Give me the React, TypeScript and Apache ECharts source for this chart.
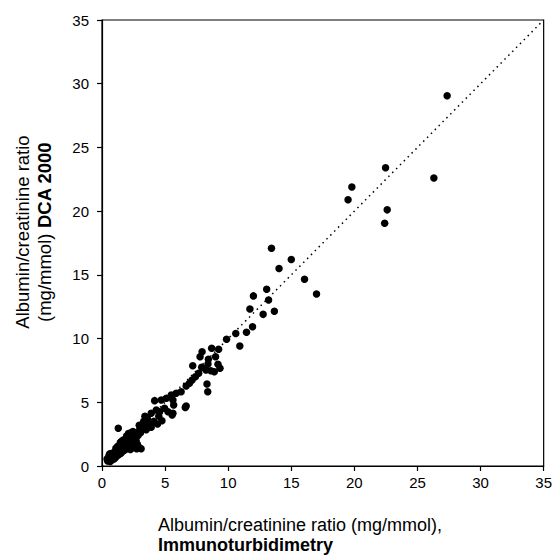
import React, { useEffect, useRef } from "react";
import * as echarts from "echarts";

// Albumin/creatinine ratio: [Immunoturbidimetry, DCA 2000] (mg/mmol)
const lowPoints: number[][] = [
  [0.45, 0.4], [0.5, 0.6], [0.55, 0.45], [0.6, 0.7], [0.65, 0.35], [0.7, 0.55],
  [0.75, 0.85], [0.8, 0.5], [0.85, 0.7], [0.9, 0.95], [0.95, 0.55], [1.0, 0.8],
  [1.0, 1.1], [1.05, 0.65], [1.1, 1.0], [1.15, 1.25], [1.2, 0.8], [1.25, 1.05],
  [1.3, 1.35], [1.35, 0.9], [1.4, 1.2], [1.45, 1.5], [1.5, 1.0], [1.55, 1.3],
  [1.6, 1.65], [1.65, 1.15], [1.7, 1.45], [1.75, 1.8], [1.8, 1.25], [1.85, 1.6],
  [1.9, 1.95], [1.95, 1.35], [2.0, 1.75], [2.05, 2.1], [2.1, 1.5], [2.15, 1.9],
  [2.2, 2.25], [2.25, 1.3], [2.3, 1.7], [2.35, 2.05], [2.4, 2.45], [2.5, 1.45],
  [2.55, 1.9], [2.6, 2.25], [2.65, 2.6], [2.75, 1.35], [2.85, 2.4], [2.95, 1.45],
  [3.05, 2.6], [1.1, 1.4], [1.45, 1.85], [1.95, 2.35], [2.3, 2.6], [0.6, 0.95],
  [0.75, 0.6], [0.9, 0.75], [1.05, 0.9], [1.2, 1.1], [1.35, 1.15], [1.5, 1.4],
  [1.65, 1.5], [1.8, 1.45], [1.9, 1.7], [2.05, 1.85], [2.2, 2.0], [2.35, 1.6],
  [2.5, 2.15], [2.7, 2.0], [2.8, 1.7], [3.1, 1.35], [1.7, 2.05], [2.1, 2.55],
  [0.4, 0.55], [0.55, 0.8], [0.8, 1.0], [1.25, 1.55], [1.55, 1.95], [2.45, 2.7],
  [1.29, 2.96],
];

const midPoints: number[][] = [
  [3.0, 2.9], [3.2, 3.1], [3.5, 2.85], [3.7, 3.3], [3.9, 3.05], [4.1, 3.5],
  [4.4, 3.3], [4.75, 3.55], [3.4, 3.9], [3.9, 4.14], [4.3, 4.4], [4.57, 4.26],
  [4.96, 4.53], [5.23, 4.26], [5.62, 4.14], [5.68, 4.79], [5.56, 4.0], [6.6, 4.6],
  [6.67, 4.71], [4.17, 5.13], [4.7, 5.18], [5.1, 5.31], [5.49, 5.57], [5.62, 5.18],
  [5.88, 5.71], [6.27, 5.83], [6.67, 6.28], [6.93, 6.49], [7.14, 6.75], [7.4, 7.01],
  [7.66, 7.27], [8.38, 5.83], [8.32, 6.44], [7.19, 7.87], [7.9, 7.75], [8.24, 7.54],
  [8.63, 7.48], [8.9, 7.4], [9.19, 7.98], [9.35, 7.67], [8.4, 8.0], [7.77, 8.58],
  [8.43, 8.37], [9.0, 8.58], [7.93, 8.97], [8.69, 9.24], [9.24, 9.16], [9.87, 9.94],
  [10.92, 9.42], [10.6, 10.4], [11.45, 10.5], [11.93, 10.93], [3.3, 3.5],
  [3.6, 3.7], [4.5, 3.9], [2.95, 3.2],
];

const highPoints: number[][] = [
  [12.77, 11.9], [13.66, 12.14], [11.72, 12.32], [13.2, 13.03], [12.0, 13.35],
  [13.05, 13.87], [17.0, 13.5], [16.05, 14.65], [14.03, 15.5], [15.0, 16.2],
  [13.43, 17.09], [22.4, 19.05], [22.6, 20.1], [19.5, 20.9], [19.8, 21.9],
  [26.3, 22.6], [22.47, 23.4], [27.35, 29.05],
];

const identityLine: number[][] = [[0, 0], [35, 35]];
const tickValues = [0, 5, 10, 15, 20, 25, 30, 35];

const FONT = "'Liberation Sans', Arial, Helvetica, sans-serif";

export default function App() {
  const ref = useRef<HTMLDivElement>(null);
  useEffect(() => {
    if (!ref.current) return;
    const chart = echarts.init(ref.current, undefined, { renderer: "svg" });
    const points = [...lowPoints, ...midPoints, ...highPoints];
    const axisCommon = {
      type: "value" as const,
      min: tickValues[0],
      max: tickValues[tickValues.length - 1],
      interval: 5,
      axisLine: { show: true, lineStyle: { color: "#000", width: 1.2 } },
      axisTick: { show: true, length: 5, inside: false, lineStyle: { color: "#000", width: 1.2 } },
      splitLine: { show: false },
      axisLabel: { color: "#000", fontSize: 15, fontFamily: FONT },
    };
    chart.setOption({
      animation: false,
      backgroundColor: "#fff",
      grid: {
        left: 102,
        top: 20,
        width: 444,
        height: 446,
        show: true,
        borderColor: "#000",
        borderWidth: 1.2,
        backgroundColor: "transparent",
      },
      xAxis: { ...axisCommon, axisLabel: { ...axisCommon.axisLabel, margin: 9 } },
      yAxis: { ...axisCommon, axisLabel: { ...axisCommon.axisLabel, margin: 13 } },
      series: [
        {
          type: "line",
          data: identityLine,
          symbol: "none",
          lineStyle: { color: "#000", width: 1.5, type: [1.5, 4] },
          silent: true,
        },
        {
          type: "scatter",
          data: points,
          symbol: "circle",
          symbolSize: 7.5,
          itemStyle: { color: "#000", opacity: 1 },
        },
      ],
      graphic: [
        {
          type: "text",
          x: 158,
          y: 516,
          style: {
            text: "Albumin/creatinine ratio (mg/mmol),",
            font: `18px ${FONT}`,
            fill: "#000",
            textVerticalAlign: "top",
          },
        },
        {
          type: "text",
          x: 158,
          y: 536,
          style: {
            text: "Immunoturbidimetry",
            font: `bold 18px ${FONT}`,
            fill: "#000",
            textVerticalAlign: "top",
          },
        },
        {
          type: "text",
          x: 22,
          y: 232,
          rotation: Math.PI / 2,
          style: {
            text: "Albumin/creatinine ratio",
            font: `18.5px ${FONT}`,
            fill: "#000",
            textAlign: "center",
            textVerticalAlign: "middle",
          },
        },
        {
          type: "text",
          x: 44,
          y: 232,
          rotation: Math.PI / 2,
          style: {
            text: "{a|(mg/mmol) }{b|DCA 2000}",
            fill: "#000",
            textAlign: "center",
            textVerticalAlign: "middle",
            rich: {
              a: { fontSize: 18.5, fontFamily: FONT, fontWeight: "normal", fill: "#000" },
              b: { fontSize: 18.5, fontFamily: FONT, fontWeight: "bold", fill: "#000" },
            },
          },
        },
      ],
    });
    return () => chart.dispose();
  }, []);
  return (
    <div
      ref={ref}
      style={{ position: "absolute", left: 0, top: 0, width: 555, height: 559, background: "#fff" }}
    />
  );
}
